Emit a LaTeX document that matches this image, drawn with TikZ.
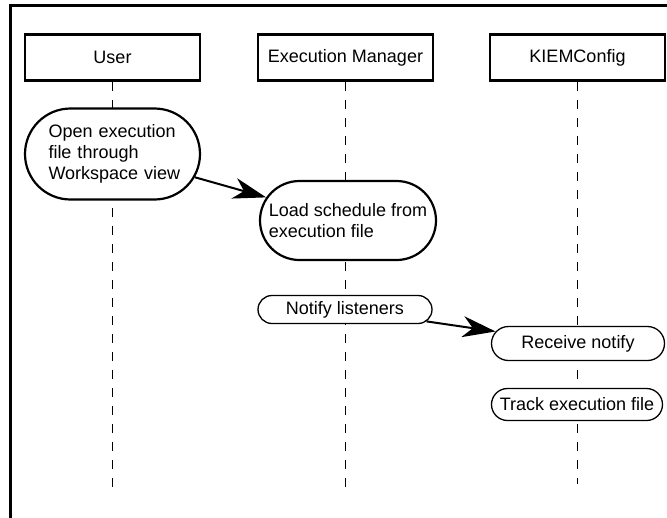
\documentclass[tikz,border=0pt]{standalone}
\usepackage{fontspec}
\setmainfont{Liberation Sans}
\usetikzlibrary{arrows.meta,shapes.misc}
\begin{document}
\begin{tikzpicture}[x=1pt,y=-1pt,
  every node/.style={font=\fontsize{18}{21}\selectfont},
  actor/.style={draw,line width=2.6pt,minimum width=175pt,minimum height=46pt,inner sep=0pt},
  lifeline/.style={line width=1.3pt,dash pattern=on 9pt off 9pt},
  bigact/.style={rounded rectangle,draw,fill=white,line width=2.2pt,inner sep=0pt,align=left},
  smallact/.style={rounded rectangle,draw,fill=white,line width=1.3pt,inner sep=0pt},
  msg/.style={line width=2pt,-{Stealth[length=33pt,width=21pt,inset=10pt]}}]

\useasboundingbox (0,0) rectangle (667,517);

% outer frame
\draw[line width=3pt] (10.5,530) -- (10.5,5) -- (680,5);

% participants
\node[actor] (user) at (112.5,57.5) {User};
\node[actor] (mgr)  at (345.5,57.5) {Execution Manager};
\node[actor] (kiem) at (577.5,57.5) {KIEMConfig};

% lifelines
\coordinate (userEnd) at (112.5,494);
\coordinate (mgrEnd)  at (345.5,494);
\coordinate (kiemEnd) at (577.5,484);
\draw[lifeline] (user.south) -- (userEnd);
\draw[lifeline] (mgr.south)  -- (mgrEnd);
\draw[lifeline] (kiem.south) -- (kiemEnd);

% activities
\node[bigact,minimum width=175pt,minimum height=91pt,text width=128pt] (open) at (112.5,154)
  {Open~execution\\file~through\\Workspace~view};
\node[bigact,minimum width=176pt,minimum height=79pt] (load) at (348,220.5)
  {Load schedule from\\execution file};
\node[smallact,minimum width=174pt,minimum height=28pt] (notify) at (345,309.5) {Notify listeners};
\node[smallact,minimum width=173pt,minimum height=34pt] (recv) at (578,343.5) {Receive notify};
\node[smallact,minimum width=171pt,minimum height=32pt] (track) at (577,404.5) {Track execution file};

% messages
\draw[msg] (open) -- (load);
\draw[msg] (notify) -- (recv);
\end{tikzpicture}
\end{document}
